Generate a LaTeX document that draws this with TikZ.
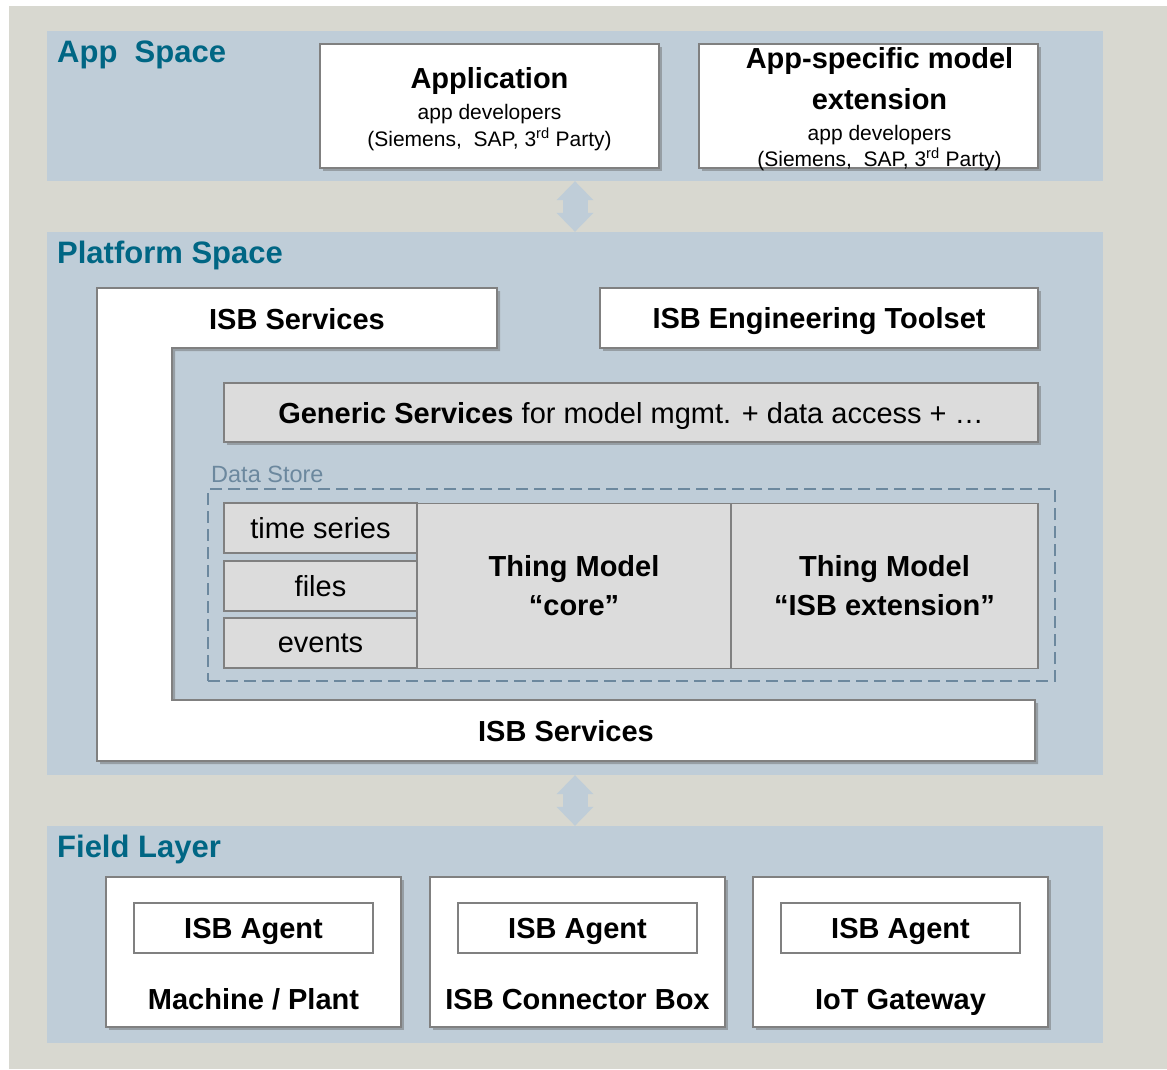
\documentclass[tikz,border=0pt]{standalone}
\usepackage{fontspec}
\setmainfont{Liberation Sans}
\usetikzlibrary{shadows,arrows.meta}

\definecolor{outerbg}{RGB}{216,216,208}
\definecolor{bandblue}{RGB}{191,205,216}
\definecolor{titleteal}{RGB}{0,102,132}
\definecolor{boxgray}{RGB}{128,128,128}
\definecolor{storegray}{RGB}{220,220,220}
\definecolor{dsblue}{RGB}{108,136,158}

\newcommand\bigbf{\fontsize{29}{35}\selectfont\bfseries}
\newcommand\bigrm{\fontsize{29}{35}\selectfont}
\newcommand\smallrm{\fontsize{21}{27}\selectfont}

\tikzset{
	band/.style={fill=bandblue, minimum width=1056pt, inner sep=0pt},
	title/.style={anchor=base west, inner sep=0pt, text=titleteal, font=\fontsize{31}{37}\selectfont\bfseries},
	box/.style={draw=boxgray, line width=1.3pt, fill=white, inner sep=0pt, align=center, text depth=0pt,
		drop shadow={shadow xshift=3pt, shadow yshift=-3pt, fill=black!60, opacity=.45}},
	greybox/.style={box, fill=storegray},
	boxtext/.style={inner sep=0pt, align=center, font=\smallrm},
	storebox/.style={draw=boxgray, line width=1.3pt, fill=storegray, inner sep=0pt, align=center, font=\bigrm},
	agent/.style={draw=boxgray, line width=1.3pt, fill=white, inner sep=0pt, text depth=0pt,
		minimum width=239pt, minimum height=50pt, font=\bigbf},
	dsframe/.style={draw=dsblue, line width=1.3pt, dash pattern=on 12pt off 6pt, inner sep=0pt},
	updown/.style={draw=bandblue, line width=25pt,
		{Triangle[length=19pt, width=37pt, line width=0pt]}-{Triangle[length=19pt, width=37pt, line width=0pt]}}
}

\begin{document}
\begin{tikzpicture}[x=1pt,y=-1pt]
	\useasboundingbox (0,0) rectangle (1167,1069);
	\fill[outerbg] (9,6) rectangle (1167,1069);

	% the three layers
	\node[band, minimum height=150pt] (appspace) at (575,106) {};
	\node[band, minimum height=543pt] (platspace) at (575,503.5) {};
	\node[band, minimum height=217pt] (fieldspace) at (575,934.5) {};
	\node[title] (apptitle) at (57,62.5) {App\ \ Space};
	\node[title] (plattitle) at (57,263) {Platform Space};
	\node[title] (fieldtitle) at (57,857) {Field Layer};
	\draw[updown] (appspace.south) -- (platspace.north);
	\draw[updown] (platspace.south) -- (fieldspace.north);

	% app space
	\node[box, minimum width=339pt, minimum height=124pt] (app) at (489.5,106) {};
	\node[boxtext] (apptext) at ([yshift=-3pt]app.center)
		{{\bigbf Application}\\[4pt]app developers\\(Siemens,\ \ SAP, 3\textsuperscript{rd} Party)};
	\node[box, minimum width=339pt, minimum height=124pt] (appext) at (868.5,106) {};
	\node[boxtext] (appexttext) at ([xshift=11pt, yshift=-3pt]appext.center)
		{{\bigbf App-specific model}\\[13pt]{\bigbf extension}\\[4pt]app developers\\[-1pt](Siemens,\ \ SAP, 3\textsuperscript{rd} Party)};

	% platform space
	\filldraw[box] (97,288) -- (497,288) -- (497,348) -- (172,348) -- (172,700)
		-- (1035,700) -- (1035,761) -- (97,761) -- cycle;
	\node[font=\bigbf, anchor=base, inner sep=0pt] (isbtop) at (297,329) {ISB Services};
	\node[font=\bigbf, anchor=base, inner sep=0pt] (isbbottom) at (566,741) {ISB Services};
	\node[box, minimum width=438pt, minimum height=60pt, font=\bigbf] (toolset) at (819,318) {ISB Engineering Toolset};
	\node[greybox, minimum width=814pt, minimum height=59pt, font=\bigrm] (generic) at (631,412.5)
		{\textbf{Generic Services} for model mgmt. + data access + …};

	\node[anchor=base west, inner sep=0pt, text=dsblue, font=\fontsize{23.5}{28}\selectfont] (dslabel) at (211,482) {Data Store};
	\node[dsframe, minimum width=847pt, minimum height=192pt] (store) at (631.5,585) {};
	\foreach \cy/\kind in {528/time series, 586/files, 643/events}{
		\node[storebox, minimum width=193pt, minimum height=50pt] (\kind) at (320.5,\cy) {\kind};
	}
	\node[storebox, minimum width=314pt, minimum height=165pt, font=\bigbf] (core) at (574,586)
		{Thing Model\\[4pt]“core”};
	\node[storebox, minimum width=307pt, minimum height=165pt, font=\bigbf] (isbext) at (884.5,586)
		{Thing Model\\[4pt]“ISB extension”};

	% field layer
	\foreach \cx/\dev/\nm in {253.5/{Machine / Plant}/plant, 577.5/ISB Connector Box/cbox, 900.5/IoT Gateway/gateway}{
		\node[box, minimum width=295pt, minimum height=150pt] (\nm) at (\cx,952) {};
		\node[agent] (\nm-agent) at (\cx,928) {ISB Agent};
		\node[font=\bigbf, anchor=base, inner sep=0pt] (\nm-label) at (\cx,1009) {\dev};
	}
\end{tikzpicture}
\end{document}
